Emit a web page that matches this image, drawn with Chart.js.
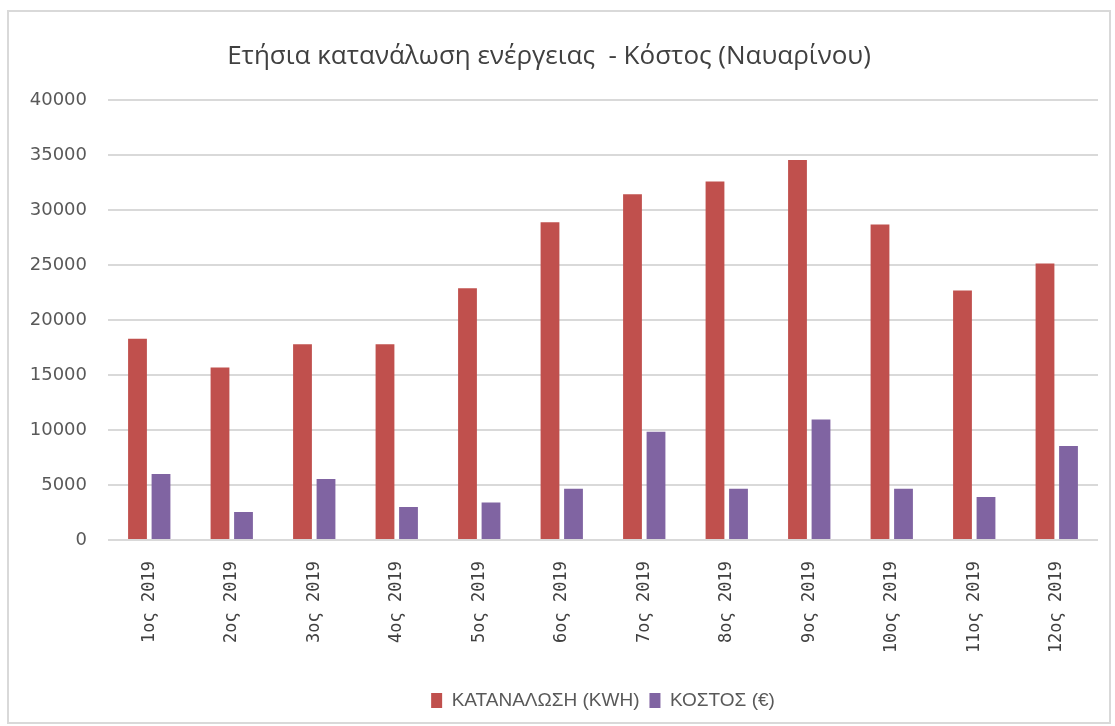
<!DOCTYPE html>
<html>
<head>
<meta charset="utf-8">
<script src="https://cdn.jsdelivr.net/npm/chart.js@4"></script>
<style>
  body { margin: 0; background: #fff; }
  #wrap { position: relative; width: 1115px; height: 726px; }
  #frame { position: absolute; left: 7px; top: 10px; width: 1100px; height: 710px; border: 2px solid #d9d9d9; }
  #energyChart { position: absolute; left: 0; top: 0; }
</style>
</head>
<body>
<div id="wrap">
  <div id="frame"></div>
  <canvas id="energyChart" width="1115" height="726"></canvas>
</div>
<script>
// periods shown on the x axis
const periods = ['1ος 2019', '2ος 2019', '3ος 2019', '4ος 2019', '5ος 2019', '6ος 2019',
  '7ος 2019', '8ος 2019', '9ος 2019', '10ος 2019', '11ος 2019', '12ος 2019'];

// values
const consumptionKwh = [18300, 15700, 17800, 17800, 22900, 28900, 31450, 32600, 34550, 28700, 22700, 25150];
const costEuro = [6000, 2550, 5550, 3000, 3400, 4650, 9850, 4650, 10950, 4650, 3900, 8550];

const yTicks = [0, 5000, 10000, 15000, 20000, 25000, 30000, 35000, 40000];

const ctx = document.getElementById('energyChart');

new Chart(ctx, {
  type: 'bar',
  data: {
    labels: periods,
    datasets: [
      {
        label: 'ΚΑΤΑΝΑΛΩΣΗ (KWH)',
        data: consumptionKwh,
        backgroundColor: '#c0504d',
        categoryPercentage: 0.57,
        barPercentage: 0.8,
      },
      {
        label: 'ΚΟΣΤΟΣ (€)',
        data: costEuro,
        backgroundColor: '#8064a2',
        categoryPercentage: 0.57,
        barPercentage: 0.8,
      }
    ]
  },
  options: {
    responsive: false,
    animation: false,
    layout: { padding: { left: 0, right: 17, top: 0, bottom: 6 } },
    scales: {
      x: {
        grid: { display: false },
        border: { display: false },
        ticks: {
          autoSkip: false,
          minRotation: 90,
          maxRotation: 90,
          padding: 13,
          color: '#404040',
          font: { family: 'DejaVu Sans Mono', size: 17 }
        },
        afterFit: (s) => { s.height = 141; }
      },
      y: {
        min: 0,
        max: 40000,
        afterBuildTicks: (s) => { s.ticks = yTicks.map(v => ({ value: v })); },
        grid: { color: '#d9d9d9', lineWidth: 2, drawTicks: false },
        border: { display: false },
        ticks: {
          padding: 21,
          color: '#595959',
          font: { family: 'DejaVu Sans', size: 18 },
          callback: (v) => String(v)
        },
        afterFit: (s) => { s.width = 108; }
      }
    },
    plugins: {
      title: {
        display: true,
        text: 'Ετήσια κατανάλωση ενέργειας  - Κόστος (Ναυαρίνου)',
        color: '#404040',
        font: { family: 'Open Sans', size: 26, weight: 'normal' },
        padding: { top: 41, bottom: 28 }
      },
      legend: {
        position: 'bottom',
        fullSize: false,
        labels: {
          boxWidth: 11,
          boxHeight: 15,
          padding: 10,
          color: '#595959',
          font: { family: 'Liberation Sans', size: 19 }
        }
      },
      tooltip: { enabled: false }
    }
  }
});
</script>
</body>
</html>
